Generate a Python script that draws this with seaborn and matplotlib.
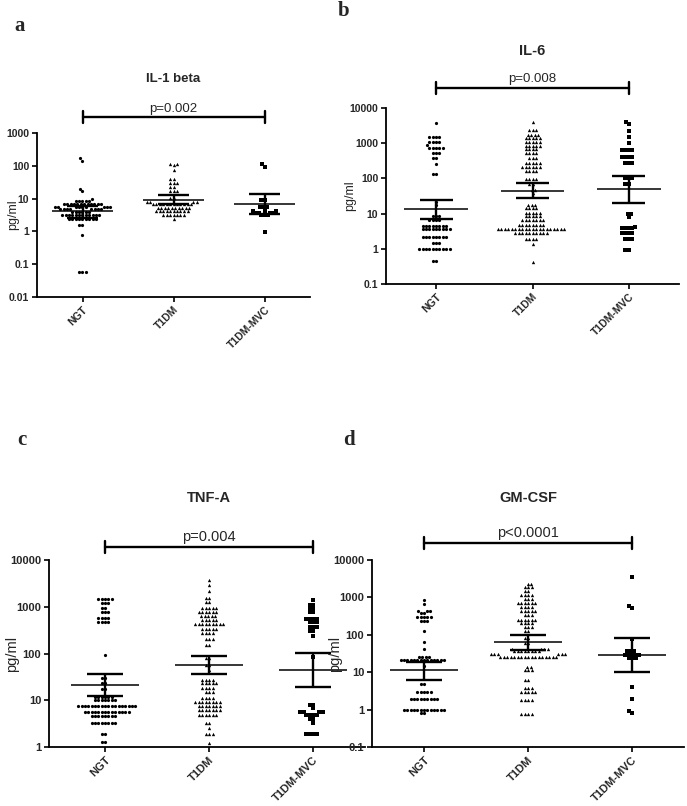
import numpy as np
import pandas as pd
import matplotlib
matplotlib.use("Agg")
import matplotlib.pyplot as plt
from matplotlib.ticker import NullLocator
import seaborn as sns

groups = ["NGT", "T1DM", "T1DM-MVC"]
group_markers = ["o", "^", "s"]
group_sizes = [2.3, 2.4, 2.4]

# values: each level (pg/ml) and the number of dots on it
# a - IL-1 beta
il1_ngt_lv = [170, 145, 19, 17, 10, 8.5, 6.8, 5.6, 4.8, 4.0, 3.1, 2.4, 1.55, 0.8, 0.056]
il1_ngt_n = [1, 1, 1, 1, 1, 5, 12, 9, 8, 6, 12, 9, 2, 1, 3]
il1_t1_lv = [115, 110, 105, 72, 39, 30, 23, 17, 10.2, 8, 6.7, 5.3, 4.3, 3.1, 2.35]
il1_t1_n = [1, 1, 1, 1, 2, 3, 2, 3, 2, 4, 12, 10, 10, 7, 1]
il1_mvc_lv = [115, 95, 9.1, 5.4, 4.3, 3.7, 3.1, 0.97]
il1_mvc_n = [1, 1, 2, 3, 3, 4, 3, 1]
il1_mean = [4.1, 9.0, 6.7]
il1_lo = [2.6, 6.7, 3.3]
il1_hi = [6.0, 12.6, 13.5]

# b - IL-6
il6_ngt_lv = [3700, 1480, 1100, 890, 750, 530, 370, 250, 133, 22, 17.6, 8.5, 6.6, 4.5, 3.6, 2.1, 1.43, 1.0, 0.45]
il6_ngt_n = [1, 4, 4, 1, 5, 3, 2, 1, 2, 1, 1, 3, 4, 8, 9, 8, 3, 10, 2]
il6_t1_lv = [3900, 2300, 1700, 1380, 1070, 850, 670, 520, 370, 270, 215, 162, 94, 69, 47, 38,
             17.6, 14.2, 10.6, 8.5, 6.6, 4.8, 3.6, 2.75, 1.86, 1.35, 0.43]
il6_t1_n = [1, 3, 4, 5, 5, 5, 4, 4, 3, 5, 6, 4, 4, 2, 2, 1,
            3, 4, 5, 5, 7, 8, 20, 10, 4, 1, 1]
il6_mvc_lv = [4100, 3500, 2200, 1540, 1020, 650, 415, 270, 100, 69, 9.8, 8, 4.3, 3.8, 2.75, 1.86, 0.95]
il6_mvc_n = [1, 1, 1, 1, 1, 4, 4, 3, 3, 2, 2, 1, 1, 4, 4, 3, 2]
il6_mean = [13.2, 45, 49]
il6_lo = [6.9, 27, 19.5]
il6_hi = [24.3, 76, 120]

# c - TNF-A
tnf_ngt_lv = [1470, 1200, 950, 760, 570, 465, 91, 30, 23, 17, 12, 10, 7.6, 5.7, 4.5, 3.2, 1.93, 1.26]
tnf_ngt_n = [5, 3, 2, 3, 4, 4, 1, 2, 2, 2, 6, 7, 18, 14, 8, 8, 2, 2]
tnf_t1_lv = [3650, 2950, 2140, 1540, 1240, 940, 760, 620, 530, 435, 340, 275, 205, 154, 80, 57, 45,
             27.5, 23, 18, 14.7, 11.3, 9, 7.4, 6.1, 4.8, 3.2, 2.5, 1.93, 1.2]
tnf_t1_n = [1, 1, 1, 2, 2, 5, 6, 5, 5, 9, 5, 4, 3, 2, 2, 2, 1,
            4, 5, 4, 3, 4, 8, 7, 7, 6, 2, 1, 3, 1]
tnf_mvc_lv = [1370, 1100, 910, 760, 550, 465, 370, 297, 233, 84, 8, 6.7, 5.5, 4.9, 4.0, 3.2, 1.93]
tnf_mvc_n = [1, 2, 2, 2, 4, 3, 3, 2, 1, 1, 2, 1, 4, 4, 2, 1, 4]
tnf_mean = [21.5, 58, 44.7]
tnf_lo = [12.6, 37, 19]
tnf_hi = [36, 89, 102]

# d - GM-CSF
gm_ngt_lv = [830, 665, 425, 383, 292, 229, 123, 63, 42, 25.5, 21.4, 14.3, 4.9, 2.9, 1.9, 1.0, 0.81]
gm_ngt_n = [1, 1, 3, 2, 5, 3, 1, 1, 1, 4, 14, 1, 2, 5, 9, 13, 2]
gm_t1_lv = [2280, 1860, 1450, 1180, 910, 710, 555, 440, 330, 254, 206, 162, 128, 82, 60,
            42, 36, 30, 25.5, 13.8, 11.3, 6.0, 3.8, 2.9, 1.84, 0.78]
gm_t1_n = [2, 3, 2, 4, 3, 6, 4, 5, 3, 6, 4, 3, 2, 2, 2,
           4, 8, 6, 17, 2, 3, 2, 3, 5, 4, 4]
gm_mvc_lv = [3500, 575, 520, 75, 36, 29.6, 24, 4.0, 1.9, 0.9, 0.82]
gm_mvc_n = [1, 1, 1, 1, 3, 5, 3, 1, 1, 1, 1]
gm_mean = [11.2, 63, 29.5]
gm_lo = [6.3, 40, 9.9]
gm_hi = [18.6, 100, 82]

sns.set_style("ticks")
plt.rcParams["font.family"] = ["Liberation Sans", "DejaVu Sans"]

W, H = 687, 806
fig = plt.figure(figsize=(W / 100, H / 100), dpi=100)


def px_axes(left, top, right, bottom):
    return fig.add_axes([left / W, 1 - bottom / H, (right - left) / W, (bottom - top) / H])


def panel(ax, title, lvs, ns, mean, lo, hi, ylim, yticks, ylabels, xlim, ptxt,
          title_y, br_y, txt_y, ylab_x, tsize, psize, lsize, ksize):
    ax.set_yscale("log")
    for g, m, sz, lv, n in zip(groups, group_markers, group_sizes, lvs, ns):
        df = pd.DataFrame({"group": g, "value": np.repeat(lv, n)})
        sns.swarmplot(data=df, x="group", y="value", order=groups, ax=ax,
                      marker=m, color="black", size=sz, linewidth=0, zorder=2)
    pos = np.arange(len(groups))
    ax.hlines(mean, pos - 0.33, pos + 0.33, color="black", lw=1.1, zorder=3)
    ax.hlines(lo, pos - 0.17, pos + 0.17, color="black", lw=1.7, zorder=3)
    ax.hlines(hi, pos - 0.17, pos + 0.17, color="black", lw=1.7, zorder=3)
    ax.vlines(pos, lo, hi, color="black", lw=1.7, zorder=3)

    ax.set_ylim(*ylim)
    ax.set_xlim(*xlim)
    ax.set_yticks(yticks)
    ax.set_yticklabels(ylabels, fontweight="bold", fontsize=ksize)
    ax.yaxis.set_minor_locator(NullLocator())
    ax.set_xticks(pos)
    ax.set_xticklabels(groups, rotation=45, ha="right", rotation_mode="anchor",
                       fontweight="bold", fontsize=ksize)
    ax.set_xlabel("")
    ax.set_ylabel("pg/ml", fontsize=lsize)
    ax.yaxis.set_label_coords(ylab_x, 0.5)
    ax.tick_params(axis="both", length=3.5, width=1.2, color="black", pad=2)
    sns.despine(ax=ax)
    for s in ["left", "bottom"]:
        ax.spines[s].set_linewidth(1.3)
        ax.spines[s].set_color("black")
    ax.set_facecolor("none")

    tr = ax.get_xaxis_transform()
    hpx = ax.get_position().height * H
    d = 6 / hpx
    ax.plot([0, 2], [br_y, br_y], color="black", lw=1.7, transform=tr, clip_on=False)
    ax.plot([0, 0], [br_y - d, br_y + d], color="black", lw=1.7, transform=tr, clip_on=False)
    ax.plot([2, 2], [br_y - d, br_y + d], color="black", lw=1.7, transform=tr, clip_on=False)
    ax.text(1, txt_y, ptxt, transform=tr, ha="center", va="bottom", fontsize=psize)
    ax.text(1, title_y, title, transform=tr, ha="center", va="center",
            fontsize=tsize, fontweight="bold")


ax_a = px_axes(37, 133, 310, 297)
panel(ax_a, "IL-1 beta",
      [il1_ngt_lv, il1_t1_lv, il1_mvc_lv], [il1_ngt_n, il1_t1_n, il1_mvc_n],
      il1_mean, il1_lo, il1_hi, (0.01, 1000),
      [0.01, 0.1, 1, 10, 100, 1000], ["0.01", "0.1", "1", "10", "100", "1000"],
      (-0.5, 2.5), "p=0.002", 1.33, 1.098, 1.11, -0.066, 9.5, 9.5, 9, 7.5)

ax_b = px_axes(386, 108, 679, 284)
panel(ax_b, "IL-6",
      [il6_ngt_lv, il6_t1_lv, il6_mvc_lv], [il6_ngt_n, il6_t1_n, il6_mvc_n],
      il6_mean, il6_lo, il6_hi, (0.1, 10000),
      [0.1, 1, 10, 100, 1000, 10000], ["0.1", "1", "10", "100", "1000", "10000"],
      (-0.52, 2.52), "p=0.008", 1.324, 1.114, 1.13, -0.102, 10.5, 9.5, 9, 7.5)

ax_c = px_axes(49, 560, 365, 747)
panel(ax_c, "TNF-A",
      [tnf_ngt_lv, tnf_t1_lv, tnf_mvc_lv], [tnf_ngt_n, tnf_t1_n, tnf_mvc_n],
      tnf_mean, tnf_lo, tnf_hi, (1, 10000),
      [1, 10, 100, 1000, 10000], ["1", "10", "100", "1000", "10000"],
      (-0.54, 2.5), "p=0.004", 1.332, 1.07, 1.085, -0.095, 10.5, 10.5, 10.5, 8)

ax_d = px_axes(372, 560, 684, 747)
panel(ax_d, "GM-CSF",
      [gm_ngt_lv, gm_t1_lv, gm_mvc_lv], [gm_ngt_n, gm_t1_n, gm_mvc_n],
      gm_mean, gm_lo, gm_hi, (0.1, 10000),
      [0.1, 1, 10, 100, 1000, 10000], ["0.1", "1", "10", "100", "1000", "10000"],
      (-0.5, 2.5), "p<0.0001", 1.332, 1.091, 1.107, -0.096, 10.5, 10.5, 10.5, 8)

for lab, x, y in [("a", 20, 26), ("b", 344, 11), ("c", 22, 440), ("d", 349, 440)]:
    fig.text(x / W, 1 - y / H, lab, fontsize=15, fontweight="bold",
             family=["Liberation Serif", "DejaVu Serif"], ha="center", va="center")

fig.savefig("out.png", dpi=100)
